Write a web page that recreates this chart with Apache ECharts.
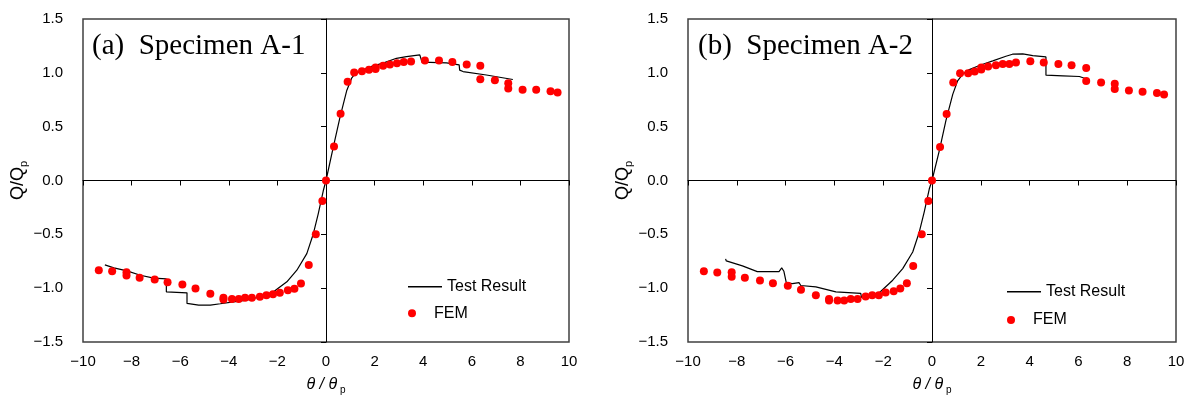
<!DOCTYPE html>
<html>
<head>
<meta charset="utf-8">
<script src="https://cdn.jsdelivr.net/npm/echarts@6/dist/echarts.min.js"></script>
<style>
html,body{margin:0;padding:0;background:#fff;}
#chart{width:1189px;height:398px;}
</style>
</head>
<body>
<div id="chart"></div>
<script>
// ---- data ----
const panelTitles = ['(a)  Specimen A-1', '(b)  Specimen A-2'];
const legendNames = ['Test Result', 'FEM'];
const xTicks = {min: -10, max: 10, step: 2};
const yTicks = {min: -1.5, max: 1.5, step: 0.5};

const testA = [[-9.1,-0.784],[-8.73,-0.812],[-8.19,-0.84],[-7.64,-0.88],[-7.09,-0.907],[-6.57,-0.914],[-6.57,-1.034],[-5.72,-1.043],[-5.72,-1.142],[-5.24,-1.157],[-4.76,-1.157],[-4.35,-1.145],[-3.81,-1.127],[-3.26,-1.111],[-2.71,-1.08],[-2.16,-1.034],[-1.61,-0.941],[-1.2,-0.833],[-0.79,-0.679],[-0.52,-0.494],[-0.32,-0.309],[-0.11,-0.093],[0,0],[0.3,0.31],[0.575,0.586],[0.85,0.833],[1.055,0.95],[1.19,0.99],[1.47,1.019],[1.81,1.055],[2.35,1.09],[2.9,1.135],[3.31,1.15],[3.86,1.167],[3.92,1.173],[3.95,1.099],[4.96,1.093],[5.48,1.074],[5.5,1.025],[5.64,1.012],[6.6,0.98],[7.69,0.938]];

const femA = [[-9.35,-0.833],[-8.8,-0.843],[-8.21,-0.852],[-8.21,-0.883],[-7.67,-0.904],[-7.05,-0.92],[-6.52,-0.944],[-5.91,-0.966],[-5.37,-1.003],[-4.76,-1.052],[-4.22,-1.09],[-4.22,-1.105],[-3.87,-1.10],[-3.59,-1.10],[-3.33,-1.09],[-3.05,-1.09],[-2.72,-1.08],[-2.45,-1.065],[-2.18,-1.056],[-1.9,-1.043],[-1.57,-1.019],[-1.3,-1.006],[-1.03,-0.957],[-0.71,-0.784],[-0.42,-0.5],[-0.15,-0.191],[0,0],[0.33,0.315],[0.6,0.62],[0.89,0.917],[1.16,1.003],[1.48,1.015],[1.77,1.028],[2.04,1.035],[2.04,1.05],[2.35,1.065],[2.63,1.077],[2.92,1.09],[3.2,1.10],[3.5,1.105],[4.07,1.114],[4.65,1.114],[5.2,1.10],[5.79,1.077],[6.35,1.065],[6.35,0.94],[6.95,0.93],[7.5,0.904],[7.5,0.855],[8.09,0.843],[8.65,0.843],[9.24,0.83],[9.53,0.818]];

const testB = [[-8.46,-0.728],[-8.43,-0.747],[-7.77,-0.793],[-7.16,-0.846],[-6.27,-0.846],[-6.16,-0.812],[-6.07,-0.843],[-5.97,-0.951],[-5.72,-0.957],[-5.45,-0.948],[-5.38,-0.975],[-4.76,-0.988],[-3.94,-1.034],[-2.92,-1.049],[-2.89,-1.086],[-2.71,-1.074],[-2.16,-1.043],[-1.61,-0.926],[-1.2,-0.818],[-0.79,-0.664],[-0.52,-0.478],[-0.32,-0.293],[-0.11,-0.077],[0,0],[0.3,0.278],[0.57,0.556],[0.85,0.80],[1.05,0.926],[1.26,0.988],[1.53,1.03],[1.94,1.068],[2.49,1.111],[3.03,1.154],[3.3,1.173],[3.72,1.176],[4.13,1.16],[4.67,1.148],[4.67,0.978],[5.36,0.972],[6.04,0.966],[6.28,0.947]];

const femB = [[-9.35,-0.843],[-8.8,-0.855],[-8.21,-0.852],[-8.21,-0.895],[-7.67,-0.904],[-7.05,-0.929],[-6.52,-0.954],[-5.91,-0.978],[-5.37,-1.015],[-4.76,-1.065],[-4.22,-1.10],[-4.22,-1.114],[-3.87,-1.114],[-3.6,-1.114],[-3.33,-1.10],[-3.05,-1.10],[-2.72,-1.077],[-2.45,-1.065],[-2.18,-1.065],[-1.9,-1.04],[-1.57,-1.028],[-1.3,-1.003],[-1.03,-0.954],[-0.77,-0.793],[-0.42,-0.5],[-0.15,-0.191],[0,0],[0.33,0.31],[0.6,0.617],[0.87,0.91],[1.15,0.997],[1.48,0.997],[1.75,1.012],[2.02,1.03],[2.02,1.05],[2.3,1.058],[2.62,1.071],[2.9,1.083],[3.17,1.083],[3.44,1.096],[4.03,1.108],[4.58,1.096],[5.18,1.083],[5.72,1.071],[6.32,1.046],[6.32,0.923],[6.93,0.91],[7.49,0.898],[7.49,0.849],[8.07,0.836],[8.63,0.824],[9.22,0.812],[9.51,0.799]];

// ---- layout / style ----
const SANS = '"Liberation Sans", Arial, sans-serif';
const SERIF = '"Liberation Serif", "Times New Roman", serif';
function signed(v, d) {
  const s = Math.abs(v).toFixed(d);
  return (v < -1e-9 ? '\u2212' : '') + s;
}
const grids = [
  {left: 83, top: 19, width: 486, height: 323},
  {left: 688, top: 19, width: 488, height: 323}
];
const testSets = [testA, testB];
const femSets = [femA, femB];
const legendPos = [
  {x: 408, yLine: 278.7, yDot: 305.3},
  {x: 1007, yLine: 283.7, yDot: 312}
];
const LINE_ICON = 'path://M0,0L34,0L34,1.4L0,1.4Z';

const option = {
  animation: false,
  backgroundColor: '#fff',
  grid: grids.map(g => Object.assign({
    show: true, borderColor: '#404040', borderWidth: 1.5,
    backgroundColor: 'transparent', containLabel: false, outerBoundsMode: 'none'
  }, g)),
  xAxis: [], yAxis: [], series: [], legend: [], graphic: []
};

for (let i = 0; i < 2; i++) {
  // label axis at the bottom
  option.xAxis.push({
    gridIndex: i, type: 'value', min: xTicks.min, max: xTicks.max, interval: xTicks.step,
    position: 'bottom',
    axisLine: {show: false, onZero: false},
    axisTick: {show: false}, splitLine: {show: false},
    axisLabel: {fontSize: 15, fontFamily: SANS, color: '#000', margin: 12,
      formatter: v => signed(v, 0)},
    name: '{t|\u03b8 / \u03b8}{s| p}', nameLocation: 'middle', nameGap: 33,
    nameTextStyle: {
      rich: {
        t: {fontSize: 16, fontStyle: 'italic', fontFamily: SANS, color: '#000', lineHeight: 20, verticalAlign: 'middle'},
        s: {fontSize: 10, fontFamily: SANS, color: '#000', lineHeight: 10, verticalAlign: 'bottom'}
      }
    }
  });
  // zero line axis (ticks pointing down)
  option.xAxis.push({
    gridIndex: i, type: 'value', min: xTicks.min, max: xTicks.max, interval: xTicks.step,
    position: 'top',
    axisLine: {show: true, onZero: true, lineStyle: {color: '#000', width: 1}},
    axisTick: {show: true, inside: true, length: 5, lineStyle: {color: '#000', width: 1}},
    axisLabel: {show: false}, splitLine: {show: false}
  });
  option.yAxis.push({
    gridIndex: i, type: 'value', min: yTicks.min, max: yTicks.max, interval: yTicks.step,
    position: 'left',
    axisLine: {show: false, onZero: false},
    axisTick: {show: false}, splitLine: {show: false},
    axisLabel: {fontSize: 15, fontFamily: SANS, color: '#000', margin: 20,
      formatter: v => signed(v, 1)},
    name: '{t|Q/Q}{s|p}', nameLocation: 'middle', nameGap: 54,
    nameTextStyle: {
      rich: {
        t: {fontSize: 18, fontFamily: SANS, color: '#000', lineHeight: 22, verticalAlign: 'middle'},
        s: {fontSize: 11, fontFamily: SANS, color: '#000', lineHeight: 11, verticalAlign: 'bottom'}
      }
    }
  });
  option.yAxis.push({
    gridIndex: i, type: 'value', min: yTicks.min, max: yTicks.max, interval: yTicks.step,
    position: 'right',
    axisLine: {show: true, onZero: true, lineStyle: {color: '#000', width: 1}},
    axisTick: {show: true, inside: true, length: 5, lineStyle: {color: '#000', width: 1}},
    axisLabel: {show: false}, splitLine: {show: false}
  });

  option.series.push({
    name: legendNames[0], type: 'line', xAxisIndex: i * 2, yAxisIndex: i * 2,
    data: testSets[i], symbol: 'none', showSymbol: false,
    lineStyle: {color: '#000', width: 1.2}, itemStyle: {color: '#000'}, z: 3
  });
  option.series.push({
    name: legendNames[1], type: 'scatter', xAxisIndex: i * 2, yAxisIndex: i * 2,
    data: femSets[i], symbol: 'circle', symbolSize: 8,
    itemStyle: {color: '#ff0000', opacity: 1}, z: 4
  });

  const lp = legendPos[i];
  const legendText = {fontSize: 16, fontFamily: SANS, color: '#000', lineHeight: 16};
  option.legend.push({
    left: lp.x, top: lp.yLine, itemWidth: 34, itemHeight: 8, itemGap: 0,
    selectedMode: false, data: [{name: legendNames[0], icon: LINE_ICON}],
    itemStyle: {color: '#000', opacity: 1},
    textStyle: legendText, padding: 0
  });
  option.legend.push({
    left: lp.x, top: lp.yDot, itemWidth: 34, itemHeight: 8, itemGap: 0,
    selectedMode: false, data: [{name: legendNames[1], icon: 'circle'}],
    itemStyle: {color: '#ff0000', opacity: 1},
    textStyle: legendText, padding: 0
  });

  option.graphic.push({
    type: 'text', x: grids[i].left + 9 + i, y: 46,
    style: {text: panelTitles[i], font: '29px ' + SERIF, fill: '#000', verticalAlign: 'middle', align: 'left'}
  });
}

const chart = echarts.init(document.getElementById('chart'), null, {renderer: 'canvas'});
chart.setOption(option);
</script>
</body>
</html>
